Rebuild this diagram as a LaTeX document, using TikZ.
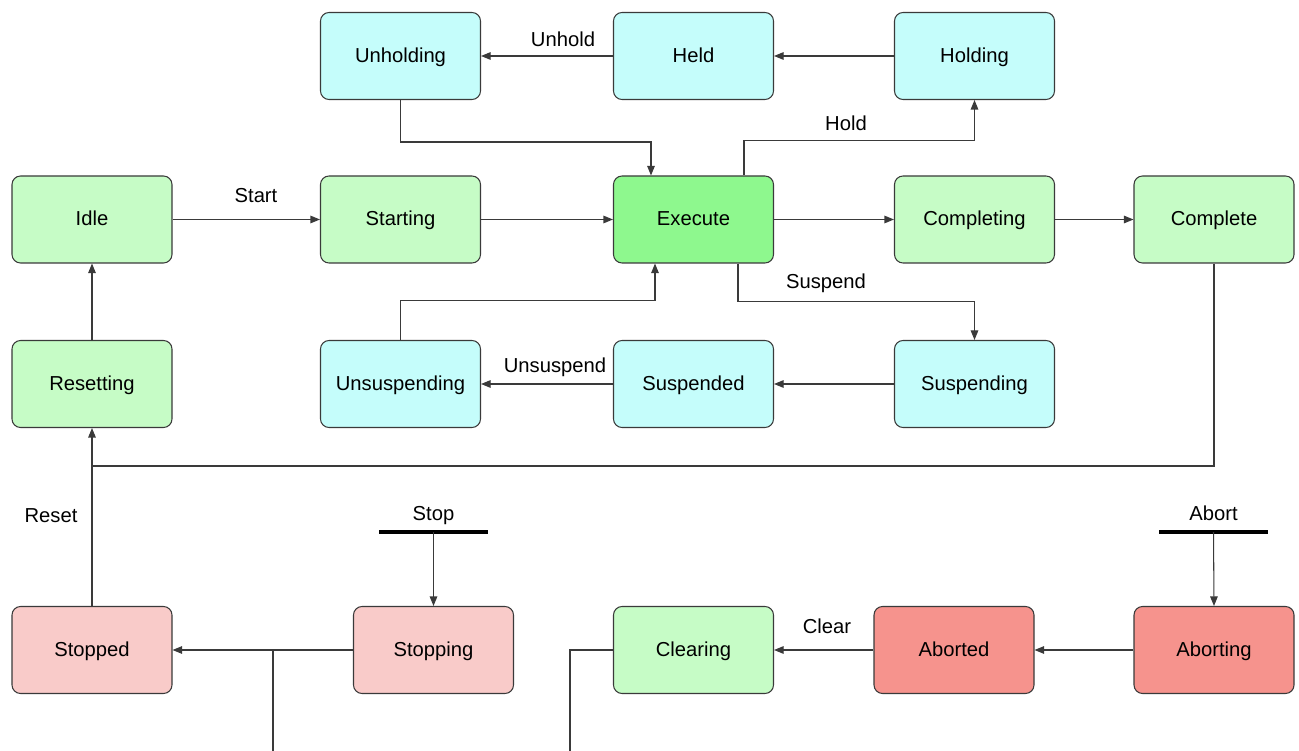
\documentclass[tikz,border=0pt]{standalone}
\usepackage{fontspec}
\setmainfont{Liberation Sans}
\usetikzlibrary{arrows.meta}
\definecolor{holdcyan}{HTML}{C5FDFB}
\definecolor{rungreen}{HTML}{C6FCC6}
\definecolor{execgreen}{HTML}{8EF88E}
\definecolor{stoppink}{HTML}{F9CBC9}
\definecolor{abortred}{HTML}{F6938D}
\definecolor{edgegray}{HTML}{3A3A3A}
\begin{document}
\begin{tikzpicture}[
    state/.style={draw=edgegray, line width=0.6pt, rounded corners=0.17cm,
      minimum width=3.2cm, minimum height=1.74cm, inner sep=0pt,
      text height=0.72em, text depth=0pt,
      font=\fontsize{11.5}{14}\selectfont},
    conn/.style={draw=edgegray, line width=0.6pt, -{Triangle[length=0.19cm,width=0.15cm]}},
    wire/.style={draw=edgegray, line width=0.6pt},
    bar/.style={draw=black, line width=1.8pt},
    lbl/.style={font=\fontsize{11.5}{14}\selectfont, inner sep=0pt,
      text height=0.72em, text depth=0pt}]
    \useasboundingbox (0,0) rectangle (25.98,-15.02);
    \node[state, fill=holdcyan] (unholding) at (8.01,-1.12) {Unholding};
    \node[state, fill=holdcyan] (held) at (13.87,-1.12) {Held};
    \node[state, fill=holdcyan] (holding) at (19.49,-1.12) {Holding};
    \node[state, fill=rungreen] (idle) at (1.84,-4.39) {Idle};
    \node[state, fill=rungreen] (starting) at (8.01,-4.39) {Starting};
    \node[state, fill=execgreen] (execute) at (13.87,-4.39) {Execute};
    \node[state, fill=rungreen] (completing) at (19.49,-4.39) {Completing};
    \node[state, fill=rungreen] (complete) at (24.28,-4.39) {Complete};
    \node[state, fill=rungreen] (resetting) at (1.84,-7.68) {Resetting};
    \node[state, fill=holdcyan] (unsuspending) at (8.01,-7.68) {Unsuspending};
    \node[state, fill=holdcyan] (suspended) at (13.87,-7.68) {Suspended};
    \node[state, fill=holdcyan] (suspending) at (19.49,-7.68) {Suspending};
    \node[state, fill=stoppink] (stopped) at (1.84,-13.0) {Stopped};
    \node[state, fill=stoppink] (stopping) at (8.67,-13.0) {Stopping};
    \node[state, fill=rungreen] (clearing) at (13.87,-13.0) {Clearing};
    \node[state, fill=abortred] (aborted) at (19.08,-13.0) {Aborted};
    \node[state, fill=abortred] (aborting) at (24.28,-13.0) {Aborting};
    \coordinate (resetjoin) at (1.84,-9.32);
    \coordinate (stopin) at (8.67,-10.64);
    \coordinate (abortin) at (24.27,-10.64);
    \coordinate (stopout) at (5.46,-15.02);
    \coordinate (clearout) at (11.4,-15.02);
    % hold loop
    \draw[conn] (holding) -- (held);
    \draw[conn] (held) -- (unholding);
    \node[lbl] (unholdlbl) at (11.26,-0.8) {Unhold};
    \draw[conn] (unholding.south) -- ++(0,-0.84) -| ([xshift=-0.85cm]execute.north);
    \draw[conn] ([xshift=1.01cm]execute.north) -- ++(0,0.7) -| (holding.south);
    \node[lbl] (holdlbl) at (16.92,-2.48) {Hold};
    % main line
    \draw[conn] (idle) -- (starting);
    \node[lbl] (startlbl) at (5.12,-3.92) {Start};
    \draw[conn] (starting) -- (execute);
    \draw[conn] (execute) -- (completing);
    \draw[conn] (completing) -- (complete);
    \draw[conn] (resetting) -- (idle);
    % suspend loop
    \draw[conn] ([xshift=0.89cm]execute.south) -- ++(0,-0.76) -| (suspending.north);
    \node[lbl] (susplbl) at (16.52,-5.64) {Suspend};
    \draw[conn] (suspending) -- (suspended);
    \draw[conn] (suspended) -- (unsuspending);
    \node[lbl] (unsusplbl) at (11.1,-7.32) {Unsuspend};
    \draw[conn] (unsuspending.north) -- ++(0,0.78) -| ([xshift=-0.77cm]execute.south);
    % reset
    \draw[wire] (complete.south) |- (resetjoin);
    \draw[conn] (stopped.north) -- (resetting.south);
    \node[lbl] (resetlbl) at (1.02,-10.32) {Reset};
    % stop and abort
    \draw[bar] ([xshift=-1.09cm]stopin) -- ([xshift=1.09cm]stopin);
    \node[lbl] (stoplbl) at (8.67,-10.28) {Stop};
    \draw[conn] (stopin) -- (stopping.north);
    \draw[conn] (stopping) -- (stopped);
    \draw[wire] (stopout) -- (stopout |- stopping.west);
    \draw[bar] ([xshift=-1.09cm]abortin) -- ([xshift=1.09cm]abortin);
    \node[lbl] (abortlbl) at (24.27,-10.28) {Abort};
    \draw[conn] (abortin) -- (aborting.north);
    \draw[conn] (aborting) -- (aborted);
    \draw[conn] (aborted) -- (clearing);
    \node[lbl] (clearlbl) at (16.54,-12.54) {Clear};
    \draw[wire] (clearing.west) -| (clearout);
\end{tikzpicture}
\end{document}
